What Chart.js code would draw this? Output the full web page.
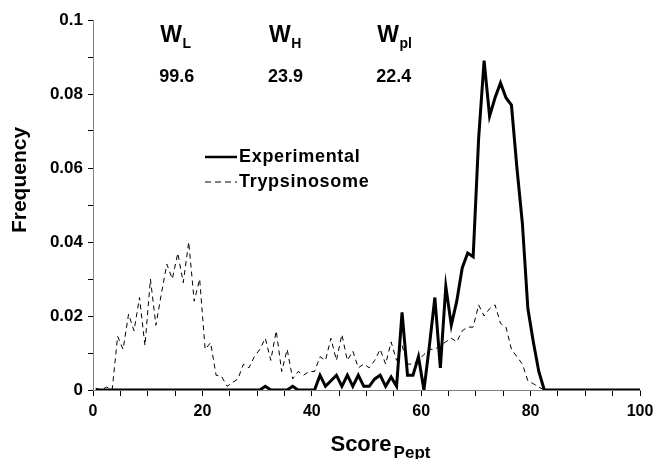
<!DOCTYPE html>
<html>
<head>
<meta charset="utf-8">
<script src="https://cdn.jsdelivr.net/npm/chart.js@4"></script>
<style>
  html, body { margin: 0; padding: 0; background: #fff; }
  #wrap { width: 654px; height: 459px; }
</style>
</head>
<body>
<div id="wrap"><canvas id="chart" width="654" height="459"></canvas></div>
<script>
// score bins (bin centres), frequencies
const scores = [
  0.5, 1.5, 2.5, 3.5, 4.5, 5.5, 6.5, 7.5, 8.5, 9.5,
  10.5, 11.5, 12.5, 13.5, 14.5, 15.5, 16.5, 17.5, 18.5, 19.5,
  20.5, 21.5, 22.5, 23.5, 24.5, 25.5, 26.5, 27.5, 28.5, 29.5,
  30.5, 31.5, 32.5, 33.5, 34.5, 35.5, 36.5, 37.5, 38.5, 39.5,
  40.5, 41.5, 42.5, 43.5, 44.5, 45.5, 46.5, 47.5, 48.5, 49.5,
  50.5, 51.5, 52.5, 53.5, 54.5, 55.5, 56.5, 57.5, 58.5, 59.5,
  60.5, 61.5, 62.5, 63.5, 64.5, 65.5, 66.5, 67.5, 68.5, 69.5,
  70.5, 71.5, 72.5, 73.5, 74.5, 75.5, 76.5, 77.5, 78.5, 79.5,
  80.5, 81.5, 82.5, 100
];

const experimental = [
  0, 0, 0, 0, 0, 0, 0, 0, 0, 0,
  0, 0, 0, 0, 0, 0, 0, 0, 0, 0,
  0, 0, 0, 0, 0, 0, 0, 0, 0, 0,
  0, 0.001, 0, 0, 0, 0, 0.001, 0, 0, 0,
  0, 0.004, 0.001, 0.0025, 0.004, 0.001, 0.004, 0.001, 0.004, 0.001,
  0.001, 0.003, 0.004, 0.001, 0.0035, 0.001, 0.021, 0.004, 0.004, 0.009,
  0, 0.012, 0.025, 0.006, 0.028, 0.0175, 0.024, 0.033, 0.037, 0.036,
  0.068, 0.089, 0.074, 0.079, 0.083, 0.079, 0.077, 0.06, 0.045, 0.022,
  0.013, 0.005, 0, 0
];

const trypsinosome = [
  0.0005, 0, 0.0008, 0, 0.0145, 0.011, 0.0205, 0.016, 0.025, 0.012,
  0.03, 0.0175, 0.026, 0.034, 0.03, 0.037, 0.029, 0.04, 0.024, 0.03,
  0.011, 0.0128, 0.004, 0.0037, 0.001, 0.002, 0.003, 0.007, 0.006, 0.009,
  0.011, 0.014, 0.008, 0.016, 0.005, 0.011, 0.003, 0.005, 0.004, 0.005,
  0.005, 0.009, 0.008, 0.014, 0.008, 0.015, 0.008, 0.0105, 0.006, 0.007,
  0.006, 0.008, 0.011, 0.007, 0.013, 0.008, 0.012, 0.007, 0.007, 0.008,
  0.0096, 0.011, 0.011, 0.012, 0.013, 0.014, 0.013, 0.016, 0.017, 0.017,
  0.023, 0.02, 0.022, 0.023, 0.018, 0.017, 0.011, 0.009, 0.007, 0.0025,
  0.0017, 0.0008, 0, 0
];

const seriesNames = ['Experimental', 'Trypsinosome'];
const widthNames = [['W', 'L'], ['W', 'H'], ['W', 'pl']];
const widthValues = ['99.6', '23.9', '22.4'];

const FONT = "'Liberation Sans', Arial, sans-serif";

function toPoints(values) {
  return scores.map((s, i) => ({ x: s, y: values[i] }));
}

const overlay = {
  id: 'overlay',
  afterDraw(chart) {
    const ctx = chart.ctx;
    const xs = chart.scales.x;
    ctx.save();
    ctx.fillStyle = '#000';
    ctx.strokeStyle = '#000';
    ctx.textBaseline = 'alphabetic';

    // W labels and their values
    const centres = [15.3, 35.2, 55];
    widthNames.forEach((w, i) => {
      const cx = xs.getPixelForValue(centres[i]);
      ctx.font = 'bold 18px ' + FONT;
      const vw = ctx.measureText(widthValues[i]).width;
      const left = cx - vw / 2;
      ctx.fillText(widthValues[i], left, 82);
      ctx.font = 'bold 23px ' + FONT;
      ctx.fillText(w[0], left + 1, 42);
      const ww = ctx.measureText(w[0]).width;
      ctx.font = 'bold 14px ' + FONT;
      ctx.fillText(w[1], left + 1 + ww + 0.5, 48);
    });

    // legend
    ctx.lineWidth = 2.5;
    ctx.beginPath();
    ctx.moveTo(205, 157);
    ctx.lineTo(237, 157);
    ctx.stroke();
    ctx.lineWidth = 1;
    ctx.setLineDash([6, 4]);
    ctx.beginPath();
    ctx.moveTo(205, 182);
    ctx.lineTo(237, 182);
    ctx.stroke();
    ctx.setLineDash([]);
    ctx.font = 'bold 18px ' + FONT;
    ctx.letterSpacing = '0.7px';
    ctx.fillText(seriesNames[0], 239, 162);
    ctx.fillText(seriesNames[1], 239, 187);
    ctx.letterSpacing = '0px';

    // x title with subscript
    const cx = xs.getPixelForValue(49);
    ctx.font = 'bold 22px ' + FONT;
    const sw = ctx.measureText('Score').width;
    const start = cx - sw / 2;
    ctx.fillText('Score', start, 451);
    ctx.font = 'bold 17px ' + FONT;
    ctx.fillText('Pept', start + sw + 2, 458);

    // y title
    ctx.translate(26, 180);
    ctx.rotate(-Math.PI / 2);
    ctx.font = 'bold 21px ' + FONT;
    ctx.textAlign = 'center';
    ctx.fillText('Frequency', 0, 0);
    ctx.restore();
  }
};

new Chart(document.getElementById('chart').getContext('2d'), {
  type: 'scatter',
  data: {
    datasets: [{
      label: seriesNames[1],
      data: toPoints(trypsinosome),
      showLine: true,
      borderColor: '#000',
      borderWidth: 1,
      borderDash: [5, 4],
      pointRadius: 0,
      tension: 0
    }, {
      label: seriesNames[0],
      data: toPoints(experimental),
      showLine: true,
      borderColor: '#000',
      borderWidth: 3,
      pointRadius: 0,
      tension: 0
    }]
  },
  options: {
    responsive: false,
    animation: false,
    devicePixelRatio: 1,
    layout: { padding: { left: 0, right: 0, top: 20, bottom: 0 } },
    plugins: {
      legend: { display: false },
      tooltip: { enabled: false }
    },
    scales: {
      x: {
        type: 'linear',
        min: 0,
        max: 100,
        afterFit: scale => {
          scale.height = 69;
          scale.paddingRight = 14;
        },
        ticks: {
          stepSize: 5,
          autoSkip: false,
          maxRotation: 0,
          padding: 6,
          color: '#000',
          font: { family: FONT, size: 16, weight: 'bold' },
          callback: v => (v % 20 === 0 ? String(v) : '')
        },
        grid: { drawOnChartArea: false, drawTicks: true, tickLength: 6, color: '#000' },
        border: { display: true, color: '#808080', width: 1 }
      },
      y: {
        min: 0,
        max: 0.1,
        afterFit: scale => { scale.width = 93; },
        ticks: {
          stepSize: 0.01,
          autoSkip: false,
          padding: 5,
          color: '#000',
          font: { family: FONT, size: 17, weight: 'bold' },
          callback: v => {
            const r = Math.round(v * 100);
            return r % 2 === 0 ? String(r / 100) : '';
          }
        },
        grid: { drawOnChartArea: false, drawTicks: true, tickLength: 5, color: '#000' },
        border: { display: true, color: '#808080', width: 1 }
      }
    }
  },
  plugins: [overlay]
});
</script>
</body>
</html>
